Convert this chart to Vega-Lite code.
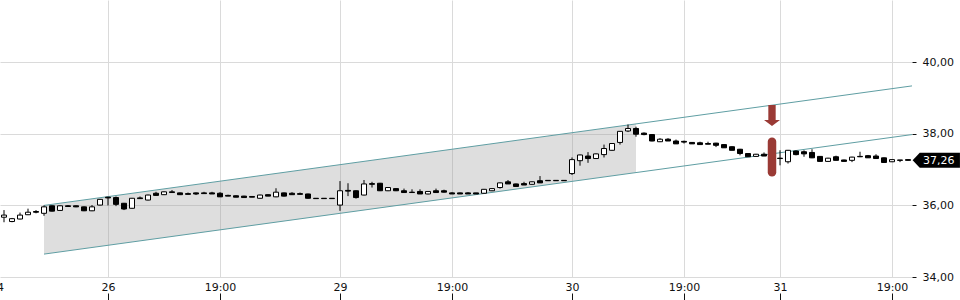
{
  "$schema": "https://vega.github.io/schema/vega-lite/v6.json",
  "width": 912,
  "height": 277,
  "autosize": {"type": "none"},
  "padding": {"left": 0, "top": 0, "right": 48, "bottom": 23},
  "background": "white",
  "config": {
    "view": {"stroke": null},
    "font": "DejaVu Sans",
    "axis": {"labelFont": "DejaVu Sans", "labelFontSize": 11, "labelColor": "#111", "gridColor": "#dadada", "gridWidth": 1, "tickColor": "#111", "title": null, "domain": false}
  },
  "datasets": {
    "candles": [
      {"i":0,"o":35.67,"h":35.87,"l":35.53,"c":35.73},
      {"i":1,"o":35.55,"h":35.65,"l":35.53,"c":35.63},
      {"i":2,"o":35.62,"h":35.80,"l":35.61,"c":35.73},
      {"i":3,"o":35.74,"h":35.91,"l":35.73,"c":35.81},
      {"i":4,"o":35.83,"h":35.87,"l":35.78,"c":35.81},
      {"i":5,"o":35.78,"h":36.00,"l":35.71,"c":35.96},
      {"i":6,"o":35.99,"h":36.00,"l":35.83,"c":35.84},
      {"i":7,"o":35.86,"h":36.00,"l":35.85,"c":35.99},
      {"i":8,"o":35.99,"h":36.01,"l":35.96,"c":35.97},
      {"i":9,"o":35.99,"h":36.00,"l":35.95,"c":35.96},
      {"i":10,"o":35.96,"h":35.97,"l":35.84,"c":35.85},
      {"i":11,"o":35.85,"h":36.01,"l":35.84,"c":35.96},
      {"i":12,"o":36.01,"h":36.18,"l":36.00,"c":36.17},
      {"i":13,"o":36.23,"h":36.24,"l":36.00,"c":36.21},
      {"i":14,"o":36.22,"h":36.25,"l":35.98,"c":36.03},
      {"i":15,"o":36.06,"h":36.07,"l":35.87,"c":35.90},
      {"i":16,"o":35.92,"h":36.21,"l":35.91,"c":36.20},
      {"i":17,"o":36.21,"h":36.25,"l":36.18,"c":36.19},
      {"i":18,"o":36.15,"h":36.30,"l":36.14,"c":36.29},
      {"i":19,"o":36.34,"h":36.38,"l":36.27,"c":36.28},
      {"i":20,"o":36.30,"h":36.39,"l":36.29,"c":36.38},
      {"i":21,"o":36.38,"h":36.43,"l":36.35,"c":36.36},
      {"i":22,"o":36.35,"h":36.36,"l":36.29,"c":36.30},
      {"i":23,"o":36.33,"h":36.36,"l":36.31,"c":36.31},
      {"i":24,"o":36.35,"h":36.36,"l":36.29,"c":36.32},
      {"i":25,"o":36.35,"h":36.38,"l":36.33,"c":36.33},
      {"i":26,"o":36.35,"h":36.38,"l":36.32,"c":36.32},
      {"i":27,"o":36.34,"h":36.37,"l":36.24,"c":36.24},
      {"i":28,"o":36.28,"h":36.30,"l":36.26,"c":36.26},
      {"i":29,"o":36.27,"h":36.28,"l":36.23,"c":36.23},
      {"i":30,"o":36.26,"h":36.27,"l":36.22,"c":36.22},
      {"i":31,"o":36.25,"h":36.25,"l":36.23,"c":36.23},
      {"i":32,"o":36.20,"h":36.30,"l":36.19,"c":36.29},
      {"i":33,"o":36.30,"h":36.31,"l":36.26,"c":36.26},
      {"i":34,"o":36.24,"h":36.48,"l":36.23,"c":36.37},
      {"i":35,"o":36.35,"h":36.36,"l":36.25,"c":36.26},
      {"i":36,"o":36.34,"h":36.37,"l":36.30,"c":36.30},
      {"i":37,"o":36.33,"h":36.36,"l":36.31,"c":36.31},
      {"i":38,"o":36.32,"h":36.33,"l":36.19,"c":36.20},
      {"i":39,"o":36.20,"h":36.20,"l":36.19,"c":36.19},
      {"i":40,"o":36.20,"h":36.20,"l":36.19,"c":36.19},
      {"i":41,"o":36.20,"h":36.20,"l":36.19,"c":36.19},
      {"i":42,"o":36.01,"h":36.68,"l":35.85,"c":36.41},
      {"i":43,"o":36.42,"h":36.62,"l":36.26,"c":36.40},
      {"i":44,"o":36.41,"h":36.42,"l":36.19,"c":36.22},
      {"i":45,"o":36.29,"h":36.71,"l":36.28,"c":36.60},
      {"i":46,"o":36.61,"h":36.66,"l":36.50,"c":36.59},
      {"i":47,"o":36.62,"h":36.63,"l":36.40,"c":36.41},
      {"i":48,"o":36.41,"h":36.51,"l":36.40,"c":36.50},
      {"i":49,"o":36.47,"h":36.48,"l":36.40,"c":36.41},
      {"i":50,"o":36.41,"h":36.47,"l":36.36,"c":36.36},
      {"i":51,"o":36.37,"h":36.45,"l":36.35,"c":36.36},
      {"i":52,"o":36.39,"h":36.45,"l":36.32,"c":36.32},
      {"i":53,"o":36.32,"h":36.40,"l":36.31,"c":36.39},
      {"i":54,"o":36.41,"h":36.47,"l":36.36,"c":36.36},
      {"i":55,"o":36.41,"h":36.44,"l":36.36,"c":36.37},
      {"i":56,"o":36.35,"h":36.37,"l":36.32,"c":36.32},
      {"i":57,"o":36.35,"h":36.36,"l":36.32,"c":36.32},
      {"i":58,"o":36.35,"h":36.37,"l":36.32,"c":36.32},
      {"i":59,"o":36.35,"h":36.35,"l":36.32,"c":36.32},
      {"i":60,"o":36.34,"h":36.46,"l":36.33,"c":36.45},
      {"i":61,"o":36.41,"h":36.48,"l":36.40,"c":36.47},
      {"i":62,"o":36.50,"h":36.64,"l":36.47,"c":36.63},
      {"i":63,"o":36.66,"h":36.71,"l":36.60,"c":36.60},
      {"i":64,"o":36.60,"h":36.61,"l":36.53,"c":36.53},
      {"i":65,"o":36.61,"h":36.66,"l":36.57,"c":36.57},
      {"i":66,"o":36.59,"h":36.67,"l":36.58,"c":36.66},
      {"i":67,"o":36.69,"h":36.82,"l":36.63,"c":36.63},
      {"i":68,"o":36.70,"h":36.70,"l":36.69,"c":36.69},
      {"i":69,"o":36.70,"h":36.70,"l":36.69,"c":36.69},
      {"i":70,"o":36.70,"h":36.70,"l":36.69,"c":36.69},
      {"i":71,"o":36.89,"h":37.34,"l":36.85,"c":37.28},
      {"i":72,"o":37.25,"h":37.42,"l":37.11,"c":37.41},
      {"i":73,"o":37.38,"h":37.49,"l":37.19,"c":37.31},
      {"i":74,"o":37.31,"h":37.45,"l":37.30,"c":37.44},
      {"i":75,"o":37.42,"h":37.70,"l":37.34,"c":37.59},
      {"i":76,"o":37.54,"h":37.74,"l":37.53,"c":37.73},
      {"i":77,"o":37.76,"h":38.08,"l":37.70,"c":38.07},
      {"i":78,"o":38.08,"h":38.26,"l":38.05,"c":38.15},
      {"i":79,"o":38.15,"h":38.20,"l":37.92,"c":37.99},
      {"i":80,"o":38.02,"h":38.04,"l":37.96,"c":37.98},
      {"i":81,"o":37.98,"h":37.99,"l":37.79,"c":37.80},
      {"i":82,"o":37.78,"h":37.88,"l":37.77,"c":37.85},
      {"i":83,"o":37.85,"h":37.88,"l":37.80,"c":37.80},
      {"i":84,"o":37.80,"h":37.84,"l":37.72,"c":37.72},
      {"i":85,"o":37.79,"h":37.81,"l":37.73,"c":37.77},
      {"i":86,"o":37.76,"h":37.77,"l":37.72,"c":37.72},
      {"i":87,"o":37.75,"h":37.78,"l":37.70,"c":37.70},
      {"i":88,"o":37.73,"h":37.78,"l":37.71,"c":37.71},
      {"i":89,"o":37.74,"h":37.75,"l":37.63,"c":37.68},
      {"i":90,"o":37.70,"h":37.71,"l":37.61,"c":37.61},
      {"i":91,"o":37.64,"h":37.65,"l":37.54,"c":37.54},
      {"i":92,"o":37.57,"h":37.58,"l":37.40,"c":37.45},
      {"i":93,"o":37.45,"h":37.46,"l":37.36,"c":37.36},
      {"i":94,"o":37.37,"h":37.44,"l":37.36,"c":37.43},
      {"i":95,"o":37.43,"h":37.48,"l":37.38,"c":37.38},
      {"i":96,"o":37.42,"h":37.43,"l":37.28,"c":37.29},
      {"i":97,"o":37.32,"h":37.54,"l":37.12,"c":37.31},
      {"i":98,"o":37.22,"h":37.55,"l":37.17,"c":37.54},
      {"i":99,"o":37.52,"h":37.54,"l":37.40,"c":37.42},
      {"i":100,"o":37.50,"h":37.54,"l":37.36,"c":37.44},
      {"i":101,"o":37.48,"h":37.57,"l":37.32,"c":37.33},
      {"i":102,"o":37.37,"h":37.38,"l":37.22,"c":37.23},
      {"i":103,"o":37.23,"h":37.33,"l":37.22,"c":37.32},
      {"i":104,"o":37.36,"h":37.39,"l":37.26,"c":37.26},
      {"i":105,"o":37.27,"h":37.28,"l":37.23,"c":37.23},
      {"i":106,"o":37.26,"h":37.36,"l":37.21,"c":37.35},
      {"i":107,"o":37.37,"h":37.50,"l":37.35,"c":37.36},
      {"i":108,"o":37.39,"h":37.41,"l":37.33,"c":37.33},
      {"i":109,"o":37.38,"h":37.43,"l":37.31,"c":37.31},
      {"i":110,"o":37.33,"h":37.34,"l":37.20,"c":37.20},
      {"i":111,"o":37.22,"h":37.29,"l":37.21,"c":37.28},
      {"i":112,"o":37.27,"h":37.27,"l":37.21,"c":37.26},
      {"i":113,"o":37.28,"h":37.29,"l":37.25,"c":37.26}
    ],
    "shade": [
      {"i":5,"lo":34.64,"hi":36.0},
      {"i":79,"lo":36.918,"hi":38.278}
    ],
    "channel": [
      {"i1":5,"v1":36.0,"i2":113.5,"v2":39.34},
      {"i1":5,"v1":34.64,"i2":113.5,"v2":37.98}
    ],
    "signal": [
      {"i":96,"top":37.78,"bottom":36.93,"arrow":38.51}
    ],
    "last": [
      {"i":113,"v":37.26,"label":"37,26"}
    ]
  },
  "layer": [
    {
      "data": {"name": "shade"},
      "mark": {"type": "area", "color": "#999999", "opacity": 0.32},
      "encoding": {
        "x": {"field": "i", "type": "quantitative",
          "scale": {"domain": [-0.5, 113.5], "nice": false, "zero": false, "padding": 0},
          "axis": {
            "orient": "bottom",
            "values": [-0.5, 13, 27, 42, 56, 71, 85, 97, 111],
            "labelExpr": "['24','26','19:00','29','19:00','30','19:00','31','19:00'][indexof([-0.5,13,27,42,56,71,85,97,111], datum.value)]",
            "grid": true,
            "gridOpacity": {"condition": {"test": "datum.value < 0", "value": 0}, "value": 1},
            "tickOpacity": {"condition": {"test": "datum.value < 0", "value": 0}, "value": 1},
            "labelOffset": {"condition": {"test": "datum.value < 0", "value": -3.5}, "value": 0},
            "offset": 16,
            "tickSize": 7,
            "labelPadding": -19,
            "labelFlush": false,
            "labelOverlap": false,
            "labelBound": false
          }
        },
        "y": {"field": "lo", "type": "quantitative",
          "scale": {"domain": [34, 41.74], "nice": false, "zero": false},
          "axis": {
            "orient": "right",
            "values": [34, 36, 38, 40],
            "labelExpr": "replace(format(datum.value, '.2f'), '.', ',')",
            "grid": true,
            "tickSize": 4,
            "labelPadding": 6
          }
        },
        "y2": {"field": "hi"}
      }
    },
    {
      "data": {"name": "channel"},
      "mark": {"type": "rule", "color": "#5f9ea3", "strokeWidth": 1},
      "encoding": {
        "x": {"field": "i1", "type": "quantitative"},
        "x2": {"field": "i2"},
        "y": {"field": "v1", "type": "quantitative"},
        "y2": {"field": "v2"}
      }
    },
    {
      "data": {"name": "candles"},
      "mark": {"type": "rule", "color": "#000", "strokeWidth": 1},
      "encoding": {
        "x": {"field": "i", "type": "quantitative"},
        "y": {"field": "l", "type": "quantitative"},
        "y2": {"field": "h"}
      }
    },
    {
      "data": {"name": "candles"},
      "mark": {"type": "bar", "width": 5, "stroke": "#000", "strokeWidth": 1},
      "encoding": {
        "x": {"field": "i", "type": "quantitative"},
        "y": {"field": "o", "type": "quantitative"},
        "y2": {"field": "c"},
        "fill": {"condition": {"test": "datum.c > datum.o", "value": "#ffffff"}, "value": "#000000"}
      }
    },
    {
      "data": {"name": "signal"},
      "mark": {"type": "rule", "color": "#9a3a35", "strokeWidth": 8.5, "strokeCap": "round"},
      "encoding": {
        "x": {"field": "i", "type": "quantitative"},
        "y": {"field": "top", "type": "quantitative"},
        "y2": {"field": "bottom"}
      }
    },
    {
      "data": {"name": "signal"},
      "mark": {"type": "point", "filled": true, "color": "#9a3a35", "opacity": 1, "size": 441,
        "shape": "M-0.35,-1L0.35,-1L0.35,0.43L0.76,0.43L0,1L-0.76,0.43L-0.35,0.43Z"},
      "encoding": {
        "x": {"field": "i", "type": "quantitative"},
        "y": {"field": "arrow", "type": "quantitative"}
      }
    },
    {
      "data": {"name": "last"},
      "mark": {"type": "point", "filled": true, "color": "#000", "opacity": 1, "size": 2237, "xOffset": 28.3, "clip": false,
        "shape": "M-1,0L-0.7,-0.317L1,-0.317L1,0.317L-0.7,0.317Z"},
      "encoding": {
        "x": {"field": "i", "type": "quantitative"},
        "y": {"field": "v", "type": "quantitative"}
      }
    },
    {
      "data": {"name": "last"},
      "mark": {"type": "text", "color": "#ffffff", "font": "DejaVu Sans", "fontSize": 11, "align": "left", "baseline": "middle", "dx": 15, "dy": 0.5},
      "encoding": {
        "x": {"field": "i", "type": "quantitative"},
        "y": {"field": "v", "type": "quantitative"},
        "text": {"field": "label"}
      }
    }
  ]
}
